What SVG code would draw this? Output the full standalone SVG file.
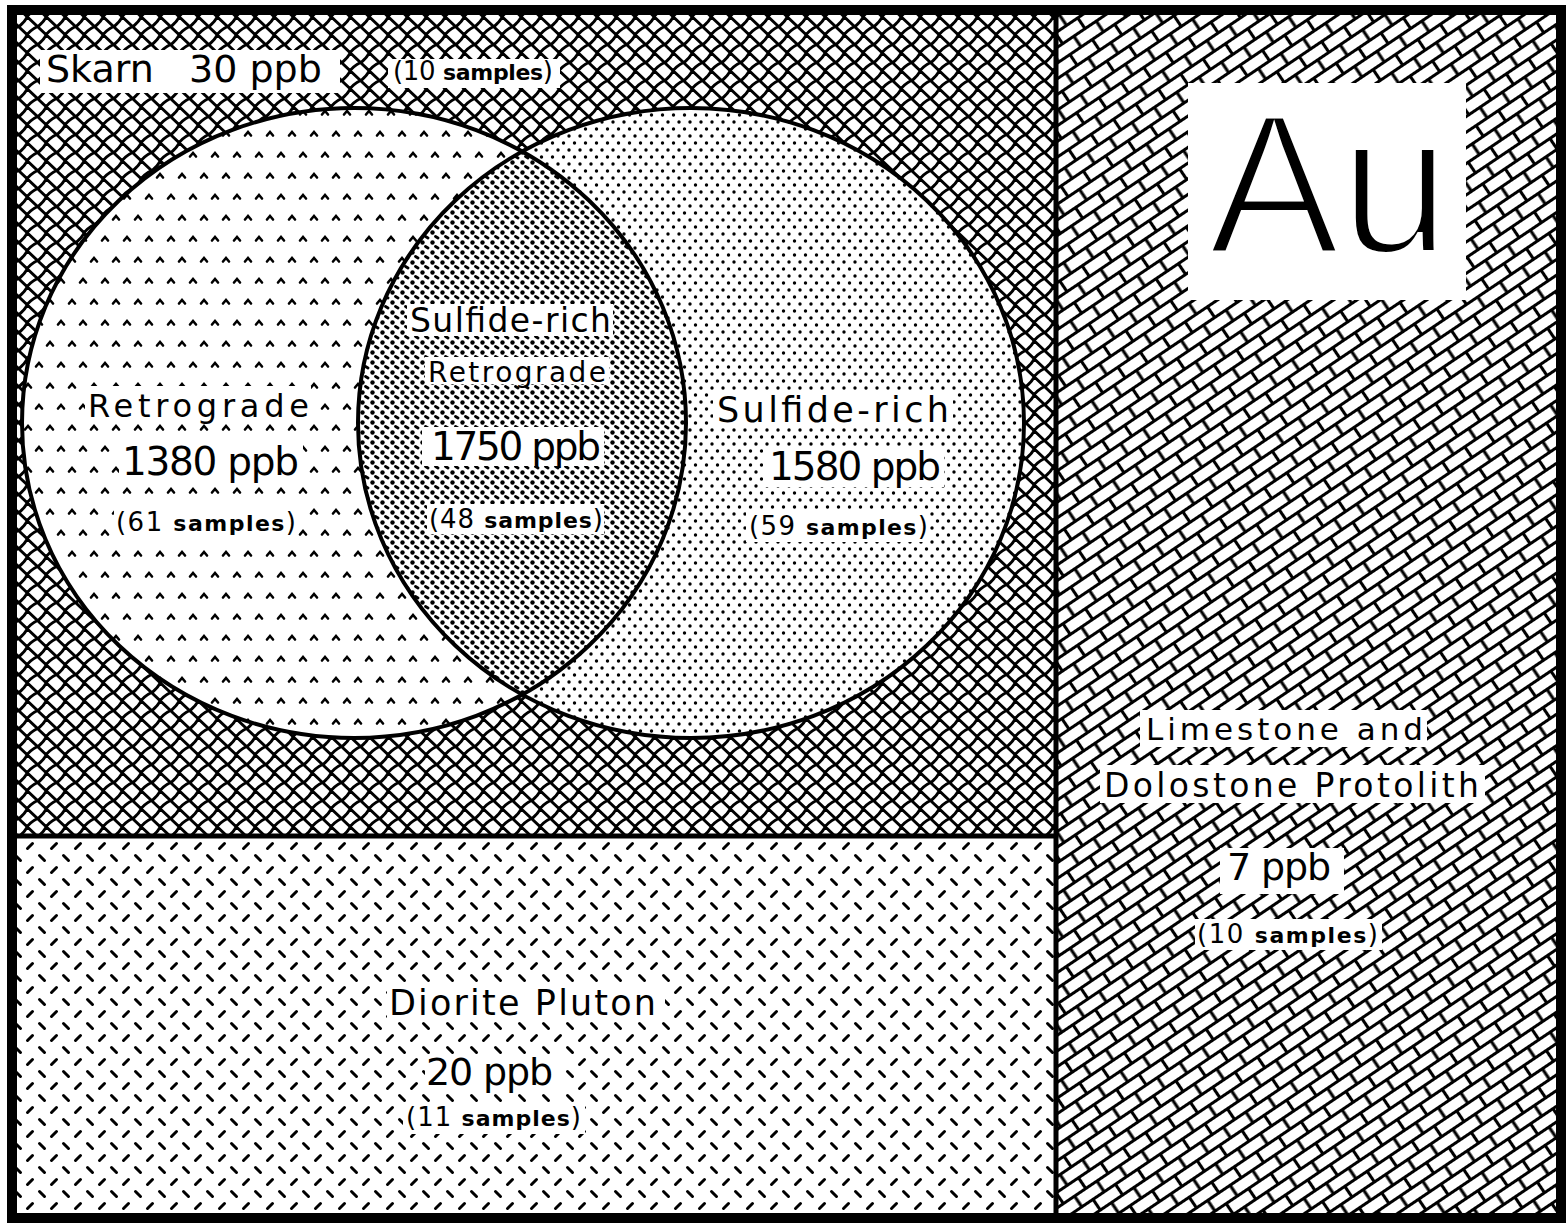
<svg xmlns="http://www.w3.org/2000/svg" width="1567" height="1224" viewBox="0 0 1567 1224">
<style>
.t{font-family:"DejaVu Sans","Liberation Sans",sans-serif;fill:#000}
.s{font-family:"DejaVu Sans","Liberation Sans",sans-serif;fill:#000;font-size:26px}
.b{font-weight:bold;font-size:22px}
.wb{fill:#fff}
.ln{stroke:#000;fill:none;stroke-linecap:round}
</style>
<defs>
<pattern id="skarn" width="19" height="18" patternUnits="userSpaceOnUse">
<rect width="19" height="18" fill="#fff"/>
<path class="ln" stroke-width="2.9" d="M-2,7.1 L21,28.9 M-2,-10.9 L21,10.9 M-2,10.9 C2,6 5,5 7.5,0 C9,-3 11,-6 21,-10.9 M-2,28.9 C2,24 5,23 7.5,18 C9,15 11,12 21,7.1"/>
</pattern>
<pattern id="lime" width="27" height="26" patternUnits="userSpaceOnUse" patternTransform="rotate(-34)">
<rect x="-1" y="-1" width="29" height="28" fill="#fff"/>
<path class="ln" stroke-width="3.1" stroke-linecap="butt" d="M-1,6.5 H28 M-1,19.5 H28 M6,6.5 V19.5 M19.5,19.5 V27 M19.5,-1 V6.5"/>
</pattern>
<pattern id="dio" width="24" height="24" patternUnits="userSpaceOnUse">
<rect width="24" height="24" fill="#fff"/>
<path class="ln" stroke-width="3" d="M3.5,8.5 L8.5,3.5 M15.5,15.5 L20.5,20.5"/>
</pattern>
<pattern id="retro" width="22" height="42" patternUnits="userSpaceOnUse">
<rect width="22" height="42" fill="#fff"/>
<path class="ln" stroke-width="2.6" d="M3,9.5 L6,6 L9,9.5 M14,30.5 L17,27 L20,30.5"/>
</pattern>
<pattern id="sulf" width="11" height="14" patternUnits="userSpaceOnUse">
<rect width="11" height="14" fill="#fff"/>
<circle cx="2.5" cy="3" r="1.7"/>
<circle cx="8" cy="10" r="1.7"/>
</pattern>
<pattern id="inter" width="10" height="10" patternUnits="userSpaceOnUse">
<rect width="10" height="10" fill="#fff"/>
<circle cx="2.5" cy="2.5" r="2.2"/>
<path class="ln" stroke-width="2.9" d="M5.5,6.5 L8,8"/>
</pattern>
<clipPath id="leftClip"><ellipse cx="354" cy="423" rx="332" ry="315"/></clipPath>
</defs>

<g id="skarn-region">
<rect x="12" y="10" width="1044" height="826" fill="url(#skarn)"/>
</g>
<g id="diorite-region">
<rect x="12" y="836" width="1044" height="382" fill="url(#dio)"/>
</g>
<g id="limestone-region">
<rect x="1056" y="10" width="505" height="1208" fill="url(#lime)"/>
</g>

<g id="retrograde">
<ellipse cx="354" cy="423" rx="332" ry="315" fill="url(#retro)"/>
</g>
<g id="sulfide-rich">
<ellipse cx="691" cy="423" rx="333" ry="315" fill="url(#sulf)"/>
</g>
<g id="sulfide-rich-retrograde">
<ellipse cx="691" cy="423" rx="333" ry="315" fill="url(#inter)" clip-path="url(#leftClip)"/>
</g>
<g id="outlines">
<ellipse cx="354" cy="423" rx="332" ry="315" fill="none" stroke="#000" stroke-width="4"/>
<ellipse cx="691" cy="423" rx="333" ry="315" fill="none" stroke="#000" stroke-width="4"/>
<line x1="1056" y1="10" x2="1056" y2="1218" stroke="#000" stroke-width="5"/>
<line x1="12" y1="836" x2="1056" y2="836" stroke="#000" stroke-width="5"/>
<rect x="12" y="10" width="1549" height="1208" fill="none" stroke="#000" stroke-width="10"/>
</g>

<g id="label-skarn">
<rect class="wb" x="40" y="50" width="300" height="43"/>
<rect class="wb" x="388" y="59" width="172" height="29"/>
<text class="t" x="46" y="82" font-size="38">Skarn<tspan x="189">30 ppb</tspan></text>
<text class="s" x="393" y="80" font-size="23" textLength="160" lengthAdjust="spacing">(10 <tspan class="b" font-size="19">samples</tspan>)</text>
</g>

<g id="label-retrograde">
<rect class="wb" x="85" y="386" width="226" height="37"/>
<rect class="wb" x="119" y="442" width="184" height="40"/>
<rect class="wb" x="114" y="504" width="184" height="33"/>
<text class="t" x="88" y="417" font-size="32" textLength="221" lengthAdjust="spacing">Retrograde</text>
<text class="t" x="122" y="475" font-size="39" textLength="177" lengthAdjust="spacing">1380 ppb</text>
<text class="s" x="116" y="531" textLength="180" lengthAdjust="spacing">(61 <tspan class="b">samples</tspan>)</text>
</g>

<g id="label-intersection">
<rect class="wb" x="407" y="304" width="206" height="32"/>
<rect class="wb" x="425" y="357" width="184" height="27"/>
<rect class="wb" x="422" y="427" width="182" height="39"/>
<rect class="wb" x="427" y="504" width="177" height="30"/>
<text class="t" x="410" y="332" font-size="33" textLength="201" lengthAdjust="spacing">Sulfide-rich</text>
<text class="t" x="428" y="382" font-size="28" textLength="178" lengthAdjust="spacing">Retrograde</text>
<text class="t" x="431" y="460" font-size="39" textLength="170" lengthAdjust="spacing">1750 ppb</text>
<text class="s" x="429" y="528" textLength="174" lengthAdjust="spacing">(48 <tspan class="b">samples</tspan>)</text>
</g>

<g id="label-sulfide">
<rect class="wb" x="713" y="393" width="240" height="34"/>
<rect class="wb" x="763" y="447" width="181" height="40"/>
<rect class="wb" x="746" y="511" width="183" height="31"/>
<text class="t" x="717" y="422" font-size="35" textLength="232" lengthAdjust="spacing">Sulfide-rich</text>
<text class="t" x="769" y="480" font-size="39" textLength="172" lengthAdjust="spacing">1580 ppb</text>
<text class="s" x="749" y="535" textLength="179" lengthAdjust="spacing">(59 <tspan class="b">samples</tspan>)</text>
</g>

<g id="label-au">
<rect class="wb" x="1188" y="83" width="278" height="217"/>
<text x="1208" y="253" font-family="'Liberation Sans',Arial,sans-serif" font-size="200" textLength="242" lengthAdjust="spacingAndGlyphs" stroke="#fff" stroke-width="6">Au</text>
</g>

<g id="label-limestone">
<rect class="wb" x="1140" y="710" width="287" height="37"/>
<rect class="wb" x="1100" y="765" width="385" height="38"/>
<rect class="wb" x="1220" y="848" width="124" height="46"/>
<rect class="wb" x="1195" y="919" width="187" height="31"/>
<text class="t" x="1146" y="740" font-size="31" textLength="277" lengthAdjust="spacing">Limestone and</text>
<text class="t" x="1104" y="797" font-size="33" textLength="375" lengthAdjust="spacing">Dolostone Protolith</text>
<text class="t" x="1227" y="880" font-size="38" textLength="104" lengthAdjust="spacing">7 ppb</text>
<text class="s" x="1197" y="943" textLength="181" lengthAdjust="spacing">(10 <tspan class="b">samples</tspan>)</text>
</g>

<g id="label-diorite">
<rect class="wb" x="387" y="983" width="278" height="37"/>
<rect class="wb" x="425" y="1055" width="138" height="37"/>
<rect class="wb" x="403" y="1104" width="182" height="30"/>
<text class="t" x="389" y="1015" font-size="35" textLength="267" lengthAdjust="spacing">Diorite Pluton</text>
<text class="t" x="426" y="1085" font-size="38" textLength="127" lengthAdjust="spacing">20 ppb</text>
<text class="s" x="406" y="1126" textLength="175" lengthAdjust="spacing">(11 <tspan class="b">samples</tspan>)</text>
</g>
</svg>
